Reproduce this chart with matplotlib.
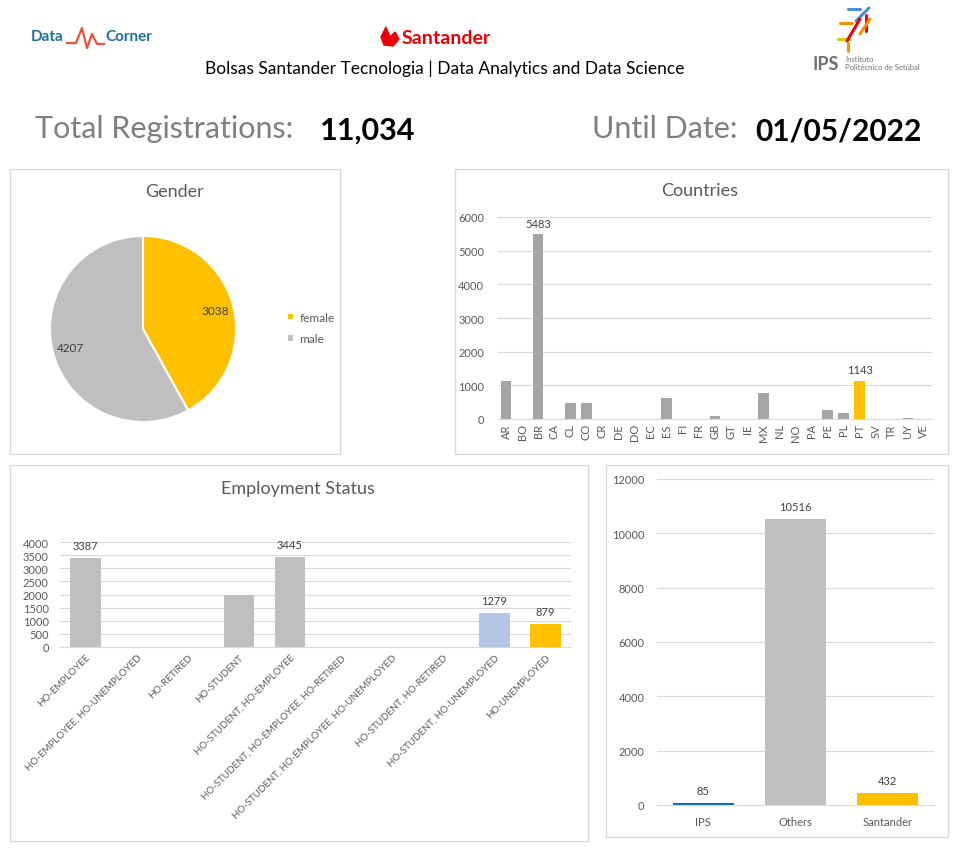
import matplotlib.pyplot as plt
import numpy as np
from matplotlib.patches import Rectangle, Polygon
from matplotlib.lines import Line2D

plt.rcParams['font.family'] = ['Lato', 'DejaVu Sans']

W, H = 962, 862

# data
gender_labels = ['female', 'male']
gender_counts = [3038, 4207]

countries = ['AR', 'BO', 'BR', 'CA', 'CL', 'CO', 'CR', 'DE', 'DO', 'EC', 'ES', 'FI', 'FR', 'GB',
             'GT', 'IE', 'MX', 'NL', 'NO', 'PA', 'PE', 'PL', 'PT', 'SV', 'TR', 'UY', 'VE']
country_counts = [1140, 0, 5483, 0, 480, 480, 0, 0, 0, 0, 630, 0, 0, 90,
                  0, 0, 780, 0, 0, 0, 270, 180, 1143, 0, 0, 30, 0]
country_labelled = ['BR', 'PT']

employment = ['HO-EMPLOYEE', 'HO-EMPLOYEE, HO-UNEMPLOYED', 'HO-RETIRED', 'HO-STUDENT',
              'HO-STUDENT, HO-EMPLOYEE', 'HO-STUDENT, HO-EMPLOYEE, HO-RETIRED',
              'HO-STUDENT, HO-EMPLOYEE, HO-UNEMPLOYED', 'HO-STUDENT, HO-RETIRED',
              'HO-STUDENT, HO-UNEMPLOYED', 'HO-UNEMPLOYED']
employment_counts = [3387, 0, 0, 1968, 3445, 0, 0, 0, 1279, 879]
employment_labelled = ['HO-EMPLOYEE', 'HO-STUDENT, HO-EMPLOYEE', 'HO-STUDENT, HO-UNEMPLOYED', 'HO-UNEMPLOYED']

origin = ['IPS', 'Others', 'Santander']
origin_counts = [85, 10516, 432]

GREY = '#BFBFBF'
GOLD = '#FFC000'
TXT = '#595959'
GRID = '#D9D9D9'
LBL = '#404040'

fig = plt.figure(figsize=(W / 100, H / 100), dpi=100)


def fx(px):
    return px / W


def fy(py):
    return 1 - py / H


def px_axes(x0, y0, x1, y1):
    return fig.add_axes([fx(x0), fy(y1), (x1 - x0) / W, (y1 - y0) / H])


def panel(x0, y0, x1, y1):
    fig.add_artist(Rectangle((fx(x0), fy(y1)), (x1 - x0) / W, (y1 - y0) / H,
                             transform=fig.transFigure, fill=False, edgecolor=GRID, lw=1))


def style_bar_axes(ax, ypad):
    for s in ['top', 'right', 'left']:
        ax.spines[s].set_visible(False)
    ax.spines['bottom'].set_color(GRID)
    ax.yaxis.grid(True, color=GRID, lw=0.8)
    ax.set_axisbelow(True)
    ax.tick_params(length=0, colors=TXT, labelsize=8)
    ax.tick_params(axis='y', pad=ypad)


# header
fig.text(fx(31), fy(37), 'Data', color='#1F6F9A', fontsize=11, fontweight='bold', va='center')
fig.add_artist(Line2D([fx(67), fx(76), fx(82), fx(87), fx(92), fx(97), fx(104)],
                      [fy(44), fy(44), fy(29), fy(49), fy(35), fy(45), fy(45)],
                      transform=fig.transFigure, color='#E6553A', lw=1.6))
fig.text(fx(105), fy(37), 'Corner', color='#1F6F9A', fontsize=11, fontweight='bold', va='center')

fig.add_artist(Polygon([(fx(386), fy(28)), (fx(381), fy(38)), (fx(384), fy(46)), (fx(393), fy(47)),
                        (fx(399), fy(40)), (fx(395), fy(33)), (fx(390), fy(38))],
                       closed=True, transform=fig.transFigure, color='#EC0000'))
fig.text(fx(402), fy(38), 'Santander', color='#EC0000', fontsize=14, fontweight='bold', va='center')

fig.text(fx(445), fy(69), 'Bolsas Santander Tecnologia | Data Analytics and Data Science',
         fontsize=12.5, ha='center', va='center', color='black')

ips_strokes = [((848, 10), (860, 10), '#4A90D9'), ((856, 22), (869, 9), '#4A90D9'),
               ((840, 24), (852, 24), '#F39200'), ((838, 40), (850, 40), '#C8D400'),
               ((847, 42), (860, 20), '#E30613'), ((866, 16), (866, 32), '#E30613'),
               ((848, 44), (848, 52), '#F39200'), ((860, 35), (870, 20), '#F39200')]
for (xa, ya), (xb, yb), c in ips_strokes:
    fig.add_artist(Line2D([fx(xa), fx(xb)], [fy(ya), fy(yb)], transform=fig.transFigure,
                          color=c, lw=2.2, solid_capstyle='round'))
fig.text(fx(812), fy(64), 'IPS', color='#707070', fontsize=13, fontweight='bold', va='center')
fig.text(fx(845), fy(60), 'Instituto', color='#707070', fontsize=5.5, va='center')
fig.text(fx(845), fy(68), 'Politécnico de Setúbal', color='#707070', fontsize=5.5, va='center')

fig.text(fx(35), fy(129), 'Total Registrations:', color='#7F7F7F', fontsize=22, va='center')
fig.text(fx(320), fy(131), '11,034', color='black', fontsize=22, fontweight='bold', va='center')
fig.text(fx(592), fy(129), 'Until Date:', color='#7F7F7F', fontsize=22, va='center')
fig.text(fx(755), fy(131), '01/05/2022', color='black', fontsize=21.5, fontweight='bold', va='center')

# panels
panel(10, 170, 340, 455)
panel(455, 170, 948, 455)
panel(10, 466, 588, 842)
panel(606, 466, 948, 838)

# gender pie
ax = px_axes(49, 236, 237, 424)
total = sum(gender_counts)
wedges, _, autotexts = ax.pie(gender_counts, colors=[GOLD, GREY], startangle=90, counterclock=False,
                              wedgeprops=dict(edgecolor='white', linewidth=1.5),
                              autopct=lambda p: f'{p * total / 100:.0f}', pctdistance=0.8,
                              textprops=dict(fontsize=8.5, color=LBL))
ax.set_xlim(-1.01, 1.01)
ax.set_ylim(-1.01, 1.01)
ax.legend(wedges, gender_labels, loc='center left', bbox_to_anchor=(fx(276), fy(329)),
          bbox_transform=fig.transFigure, frameon=False, handlelength=0.6, handleheight=0.6,
          fontsize=8.5, labelcolor=TXT, labelspacing=0.9, handletextpad=0.5)
fig.text(fx(175), fy(192), 'Gender', fontsize=13, color=TXT, ha='center', va='center')

# countries
ax = px_axes(498, 218, 932, 420)
cx = np.arange(len(countries))
ax.bar(cx, country_counts, width=0.66, color=[GOLD if c == 'PT' else '#A5A5A5' for c in countries])
for i, (c, v) in enumerate(zip(countries, country_counts)):
    if c in country_labelled:
        ax.annotate(str(v), (i, v), xytext=(0, 4), textcoords='offset points', ha='center',
                    va='bottom', fontsize=8, color=LBL)
ax.set_xlim(-0.5, len(countries) - 0.5)
ax.set_ylim(0, 6000)
ax.set_yticks(range(0, 6001, 1000))
ax.set_xticks(cx)
ax.set_xticklabels(countries, rotation=90)
style_bar_axes(ax, 10)
ax.tick_params(axis='x', pad=3)
fig.text(fx(700), fy(191), 'Countries', fontsize=13, color=TXT, ha='center', va='center')

# employment status
ax = px_axes(60, 543, 571, 648)
ex = np.arange(len(employment))
ecolors = [GREY] * 8 + ['#B4C7E7', GOLD]
ax.bar(ex, employment_counts, width=0.6, color=ecolors)
for i, (c, v) in enumerate(zip(employment, employment_counts)):
    if c in employment_labelled:
        ax.annotate(str(v), (i, v), xytext=(0, 5), textcoords='offset points', ha='center',
                    va='bottom', fontsize=8, color=LBL)
ax.set_xlim(-0.5, len(employment) - 0.5)
ax.set_ylim(0, 4000)
ax.set_yticks(range(0, 4001, 500))
ax.set_xticks(ex)
ax.set_xticklabels(employment, rotation=45, ha='right', rotation_mode='anchor')
style_bar_axes(ax, 8)
ax.tick_params(axis='x', pad=4, labelsize=7)
fig.text(fx(298), fy(489), 'Employment Status', fontsize=13, color=TXT, ha='center', va='center')

# origin
ax = px_axes(657, 480, 934, 806)
ox = np.arange(len(origin))
ax.bar(ox, origin_counts, width=0.66, color=['#0070C0', GREY, GOLD])
for i, v in enumerate(origin_counts):
    ax.annotate(str(v), (i, v), xytext=(0, 5), textcoords='offset points', ha='center',
                va='bottom', fontsize=8, color=LBL)
ax.set_xlim(-0.5, len(origin) - 0.5)
ax.set_ylim(0, 12000)
ax.set_yticks(range(0, 12001, 2000))
ax.set_xticks(ox)
ax.set_xticklabels(origin)
style_bar_axes(ax, 9)
ax.tick_params(axis='x', pad=8)

fig.savefig('out.png', dpi=100)
